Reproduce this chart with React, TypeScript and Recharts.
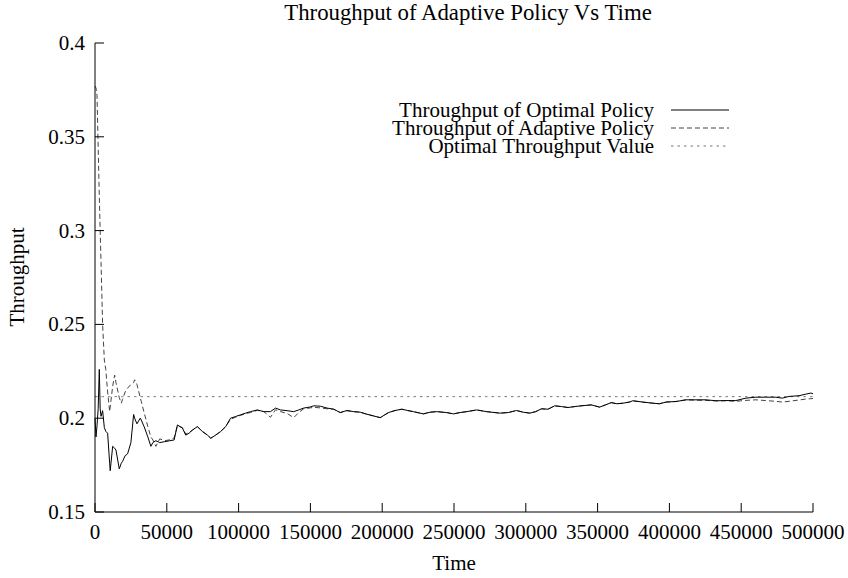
import { LineChart, Line, XAxis, YAxis, Legend } from "recharts";

// sample times (x axis)
const times = [
  0, 700, 1400, 2200, 3000, 3600, 4200, 5300, 6500, 7500,
  8800, 10200, 10600, 12300, 13700, 14600, 16900, 18300, 19200, 21000,
  22700, 25000, 26900, 27600, 29200, 31500, 32200, 34200, 36800, 38900,
  40300, 42400, 45100, 48600, 52100, 55100, 57400, 60900, 63200, 65500,
  67800, 71300, 74800, 78300, 80600, 84000, 87500, 91000, 94400, 97900,
  101400, 104900, 108300, 113000, 117600, 122200, 125700, 129200, 133800, 138400,
  141900, 145300, 150000, 152300, 156900, 161600, 166200, 170800, 175400, 180100,
  184700, 189400, 194000, 198600, 204400, 209000, 213700, 217700, 221700, 228700,
  233300, 238000, 244900, 249600, 254200, 258800, 265800, 272700, 281900, 287700,
  293500, 298100, 302800, 306900, 310900, 315500, 320100, 324800, 329400, 334100,
  339800, 345600, 351400, 355500, 359500, 363500, 367600, 372200, 374500, 381400,
  388400, 393000, 397700, 404600, 411600, 418500, 425500, 432400, 439400, 446300,
  453300, 460200, 467100, 474100, 478700, 483300, 490300, 494900, 498500, 500000,
];

const optimalPolicy = [
  0.2, 0.19, 0.196, 0.205, 0.226, 0.205, 0.201, 0.204, 0.195, 0.193,
  0.192, 0.176, 0.172, 0.185, 0.184, 0.183, 0.173, 0.176, 0.177, 0.18,
  0.181, 0.187, 0.202, 0.2, 0.197, 0.2, 0.199, 0.1955, 0.19, 0.185,
  0.187, 0.188, 0.187, 0.1875, 0.188, 0.1884, 0.1964, 0.1947, 0.191, 0.192,
  0.1937, 0.1955, 0.1929, 0.191, 0.1893, 0.191, 0.1929, 0.1955, 0.2, 0.2009,
  0.2018, 0.2027, 0.2035, 0.2044, 0.2035, 0.2035, 0.2054, 0.2044, 0.204, 0.2035,
  0.2044, 0.2054, 0.206, 0.2066, 0.2064, 0.2054, 0.2048, 0.203, 0.2041, 0.2035,
  0.2032, 0.2021, 0.2012, 0.2003, 0.203, 0.2041, 0.2048, 0.2041, 0.2035, 0.2023,
  0.2032, 0.2035, 0.203, 0.2023, 0.203, 0.2035, 0.2044, 0.2035, 0.2027, 0.203,
  0.2041, 0.2032, 0.2027, 0.2035, 0.205, 0.2048, 0.2066, 0.2062, 0.2057, 0.2062,
  0.2067, 0.2071, 0.2059, 0.2071, 0.2083, 0.2077, 0.208, 0.2086, 0.2093, 0.2086,
  0.208, 0.2077, 0.2086, 0.2089, 0.2098, 0.2098, 0.2098, 0.2093, 0.2094, 0.2094,
  0.2107, 0.2112, 0.2112, 0.2112, 0.2107, 0.2116, 0.212, 0.2128, 0.2134, 0.213,
];

const adaptivePolicy = [
  0.377, 0.376, 0.372, 0.345, 0.318, 0.3, 0.283, 0.25, 0.231, 0.226,
  0.214, 0.2035, 0.206, 0.217, 0.223, 0.219, 0.211, 0.208, 0.21, 0.214,
  0.216, 0.218, 0.219, 0.2205, 0.218, 0.211, 0.209, 0.203, 0.1955, 0.19,
  0.1884, 0.185, 0.189, 0.188, 0.1885, 0.1895, 0.196, 0.195, 0.1915, 0.1925,
  0.1935, 0.1955, 0.193, 0.191, 0.1893, 0.191, 0.1929, 0.1955, 0.1995, 0.2005,
  0.2015, 0.2025, 0.203, 0.2042, 0.2035, 0.2005, 0.2045, 0.2035, 0.2025, 0.2003,
  0.203, 0.205, 0.2055, 0.2058, 0.2055, 0.205, 0.2048, 0.203, 0.204, 0.2035,
  0.2032, 0.2021, 0.2012, 0.2003, 0.203, 0.2041, 0.2048, 0.2041, 0.2035, 0.2023,
  0.2032, 0.2035, 0.203, 0.2023, 0.203, 0.2035, 0.2044, 0.2035, 0.2027, 0.203,
  0.2041, 0.2032, 0.2027, 0.2035, 0.205, 0.2048, 0.2066, 0.2062, 0.2057, 0.2062,
  0.2067, 0.2071, 0.2059, 0.2071, 0.2083, 0.2077, 0.208, 0.2086, 0.2093, 0.2086,
  0.208, 0.2077, 0.2086, 0.2089, 0.2098, 0.2096, 0.2095, 0.2092, 0.2093, 0.209,
  0.2095, 0.2098, 0.2094, 0.209, 0.2086, 0.209, 0.2097, 0.2102, 0.2104, 0.2105,
];

const OPTIMAL_VALUE = 0.2115;

const xTicks = [0, 50000, 100000, 150000, 200000, 250000, 300000, 350000, 400000, 450000, 500000];
const yTicks = [0.15, 0.2, 0.25, 0.3, 0.35, 0.4];

const legendItems = [
  { label: "Throughput of Optimal Policy", stroke: "#000", dash: undefined },
  { label: "Throughput of Adaptive Policy", stroke: "#444", dash: "5 3" },
  { label: "Optimal Throughput Value", stroke: "#777", dash: "2.5 4" },
];

const FONT = "'Liberation Serif', 'Times New Roman', serif";
const TICK = 9;

const data = times.map((t, i) => ({
  time: t,
  optimal: optimalPolicy[i],
  adaptive: adaptivePolicy[i],
  target: OPTIMAL_VALUE,
}));

const BottomTick = (props: any) => {
  const { x, y, payload } = props;
  return (
    <g>
      <line x1={x} x2={x} y1={y} y2={y - TICK} stroke="#000" />
      <text x={x} y={y + 27} textAnchor="middle" fontSize={21} fontFamily={FONT} fill="#000">
        {payload.value}
      </text>
    </g>
  );
};

const TopTick = (props: any) => {
  const { x, y } = props;
  return <line x1={x} x2={x} y1={y} y2={y + TICK} stroke="#000" />;
};

const LeftTick = (props: any) => {
  const { x, y, payload } = props;
  return (
    <g>
      <line x1={x} x2={x + TICK} y1={y} y2={y} stroke="#000" />
      <text x={x - 10} y={y + 7} textAnchor="end" fontSize={21} fontFamily={FONT} fill="#000">
        {payload.value}
      </text>
    </g>
  );
};

const RightTick = (props: any) => {
  const { x, y } = props;
  return <line x1={x} x2={x - TICK} y1={y} y2={y} stroke="#000" />;
};

const renderLegend = () => (
  <div style={{ fontFamily: FONT, fontSize: 21, lineHeight: "18px" }}>
    {legendItems.map((item) => (
      <div key={item.label} style={{ display: "flex", justifyContent: "flex-end", alignItems: "center" }}>
        <span>{item.label}</span>
        <svg width={76} height={18}>
          <line x1={17} x2={75} y1={9} y2={9} stroke={item.stroke} strokeDasharray={item.dash} />
        </svg>
      </div>
    ))}
  </div>
);

export default function App() {
  return (
    <div style={{ position: "absolute", left: 0, top: 0, width: 848, height: 578, background: "#fff" }}>
      <LineChart
        width={848}
        height={578}
        data={data}
        margin={{ top: 43, right: 35, bottom: 6, left: 0 }}
      >
        <text x={468} y={20} textAnchor="middle" fontSize={22.8} fontFamily={FONT}>
          Throughput of Adaptive Policy Vs Time
        </text>
        <text x={24} y={277} textAnchor="middle" fontSize={21} fontFamily={FONT} transform="rotate(-90 24 277)">
          Throughput
        </text>
        <text x={454} y={570} textAnchor="middle" fontSize={21} fontFamily={FONT}>
          Time
        </text>
        <XAxis
          dataKey="time"
          type="number"
          domain={[0, 500000]}
          ticks={xTicks}
          height={60}
          tickSize={0}
          tickMargin={0}
          tickLine={false}
          axisLine={{ stroke: "#000" }}
          tick={<BottomTick />}
          interval={0}
        />
        <XAxis
          xAxisId="top"
          orientation="top"
          dataKey="time"
          type="number"
          domain={[0, 500000]}
          ticks={xTicks}
          height={0}
          tickSize={0}
          tickMargin={0}
          tickLine={false}
          axisLine={{ stroke: "#000" }}
          tick={<TopTick />}
          interval={0}
        />
        <YAxis
          type="number"
          domain={[0.15, 0.4]}
          ticks={yTicks}
          width={95}
          tickSize={0}
          tickMargin={0}
          tickLine={false}
          axisLine={{ stroke: "#000" }}
          tick={<LeftTick />}
          interval={0}
        />
        <YAxis
          yAxisId="right"
          orientation="right"
          type="number"
          domain={[0.15, 0.4]}
          ticks={yTicks}
          width={0}
          tickSize={0}
          tickMargin={0}
          tickLine={false}
          axisLine={{ stroke: "#000" }}
          tick={<RightTick />}
          interval={0}
        />
        <Legend
          content={renderLegend}
          layout="horizontal"
          align="center"
          verticalAlign="middle"
          wrapperStyle={{ position: "absolute", top: 101, left: 330, width: 400 }}
        />
        <Line
          dataKey="target"
          stroke="#777"
          strokeDasharray="2.5 4"
          dot={false}
          strokeWidth={1}
          isAnimationActive={false}
        />
        <Line
          dataKey="adaptive"
          stroke="#444"
          strokeDasharray="5 3"
          dot={false}
          strokeWidth={1}
          type="linear"
          isAnimationActive={false}
        />
        <Line
          dataKey="optimal"
          stroke="#000"
          dot={false}
          strokeWidth={1}
          type="linear"
          isAnimationActive={false}
        />
      </LineChart>
    </div>
  );
}
